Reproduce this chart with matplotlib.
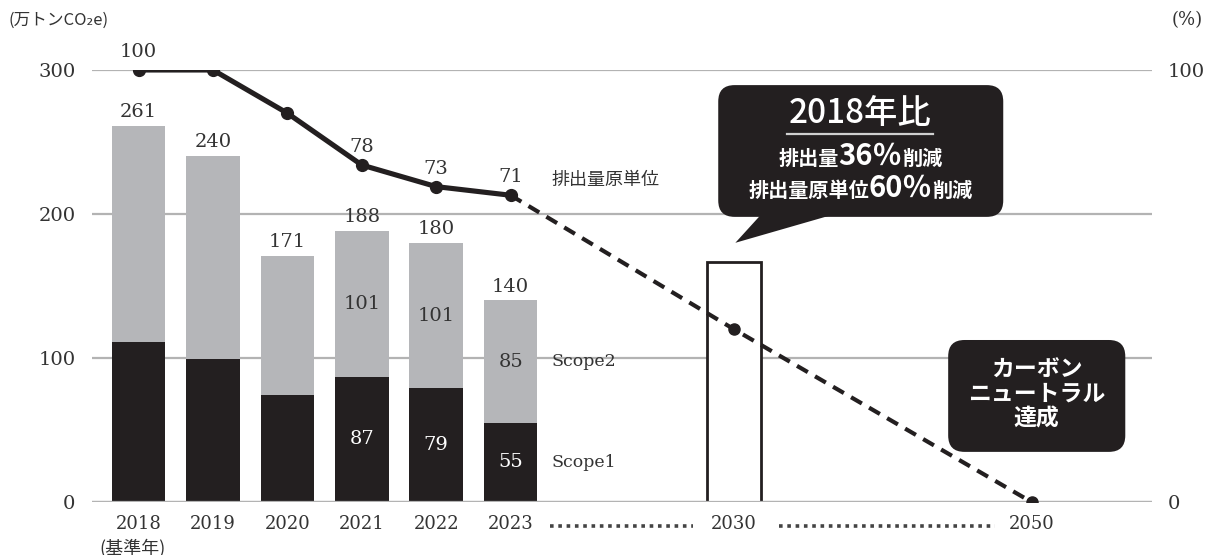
import matplotlib
matplotlib.use('Agg')
import matplotlib.pyplot as plt
from matplotlib.patches import FancyBboxPatch, Polygon
from matplotlib.offsetbox import TextArea, HPacker, AnnotationBbox

# emissions (万トンCO2e), stacked scope1 / scope2
years = ['2018', '2019', '2020', '2021', '2022', '2023']
scope1 = [111, 99, 74, 87, 79, 55]
scope2 = [150, 141, 97, 101, 101, 85]
totals = [261, 240, 171, 188, 180, 140]
show_inner = [False, False, False, True, True, True]

# emission intensity (%, 2018 = 100)
intensity = [100, 100, 90, 78, 73, 71]
intensity_labels = ['100', '', '', '78', '73', '71']

# targets
target_years = ['2030', '2050']
target_emission = 167       # 2030 outline bar
target_intensity = [40, 0]

DARK = '#231f20'
GRAY_BAR = '#b5b6b9'
GRID = '#b3b3b3'
TXT = '#333333'
SERIF = ['DejaVu Serif']
JP = ['Noto Sans CJK JP', 'DejaVu Sans']

plt.rcParams['font.family'] = SERIF

x_hist = list(range(len(years)))
x_target = [8, 12]

fig = plt.figure(figsize=(12.08, 5.55), dpi=100)
ax = fig.add_axes([0.0762, 0.0955, 0.8775, 0.7784])
ax2 = ax.twinx()

ax.set_xlim(-0.625, 13.62)
ax.set_ylim(0, 300)
ax2.set_ylim(0, 100)
for a in (ax, ax2):
    for s in a.spines.values():
        s.set_visible(False)

# grid
ax.set_axisbelow(True)
ax.set_yticks([0, 100, 200, 300])
ax.grid(axis='y', color=GRID, lw=1.6)
ax.grid(axis='x', visible=False)
ax.axhline(0, color=GRID, lw=1.6, zorder=4)

# bars
bw = 0.72
ax.bar(x_hist, scope1, width=bw, color=DARK, zorder=2)
ax.bar(x_hist, scope2, width=bw, bottom=scope1, color=GRAY_BAR, zorder=2)
ax.bar(x_target[0], target_emission, width=bw, facecolor='white',
       edgecolor=DARK, lw=2, zorder=2)

for xi, s1, s2, t, inner in zip(x_hist, scope1, scope2, totals, show_inner):
    ax.annotate(str(t), (xi, t), xytext=(0, 10), textcoords='offset points',
                ha='center', va='center', fontsize=14, color=TXT)
    if inner:
        ax.text(xi, s1 + s2 / 2, str(s2), ha='center', va='center',
                fontsize=14, color=TXT)
        ax.text(xi, s1 / 2, str(s1), ha='center', va='center',
                fontsize=14, color='white')

ax.text(x_hist[-1] + 0.55, scope1[-1] + scope2[-1] / 2, 'Scope2',
        ha='left', va='center', fontsize=12.5, color=TXT)
ax.text(x_hist[-1] + 0.55, scope1[-1] / 2, 'Scope1',
        ha='left', va='center', fontsize=12.5, color=TXT)

# intensity line
ax2.plot(x_hist, intensity, color=DARK, lw=3.7, marker='o', ms=8.5, zorder=5)
ax2.plot([x_hist[-1]] + x_target, [intensity[-1]] + target_intensity,
         color=DARK, lw=3, ls=(0, (3, 2)), zorder=5)
ax2.plot(x_target, target_intensity, 'o', color=DARK, ms=8, zorder=5)

for xi, v, lab in zip(x_hist, intensity, intensity_labels):
    if lab:
        ax2.annotate(lab, (xi, v), xytext=(0, 13), textcoords='offset points',
                     ha='center', va='center', fontsize=14, color=TXT)
ax2.text(x_hist[-1] + 0.55, intensity[-1] + 3.5, '排出量原単位', family=JP,
         ha='left', va='center', fontsize=13, color=TXT)

# ticks
ax.set_xticks(x_hist + x_target)
ax.set_xticklabels(years + target_years)
ax.tick_params(axis='x', length=0, pad=9.5, labelsize=13, labelcolor=TXT)
ax.tick_params(axis='y', length=0, pad=12, labelsize=14, labelcolor=TXT)
ax2.set_yticks([0, 100])
ax2.tick_params(axis='y', length=0, pad=11.5, labelsize=14, labelcolor=TXT)

ax.annotate('(基準年)', (0, 0), xycoords=ax.get_xaxis_transform(),
            xytext=(-4.5, -33), textcoords='offset points', family=JP,
            ha='center', va='center', fontsize=13, color=TXT)

# dotted connectors between tick labels
xt = ax.get_xaxis_transform()
for x0, x1 in [(5.53, 7.45), (8.6, 11.51)]:
    ax.plot([x0, x1], [-0.056, -0.056], transform=xt, clip_on=False,
            color='#444444', lw=2.6, ls=(0, (1, 1.3)), dash_capstyle='butt')

# axis units
fig.text(8 / 1208, 1 - 20 / 555, '(万トンCO₂e)', family=JP, fontsize=12,
         color=TXT, ha='left', va='center')
fig.text(1172 / 1208, 1 - 20 / 555, '(%)', fontsize=13, color=TXT,
         ha='left', va='center')

# callout: 2018 comparison
asp = 17.2
ax2.add_patch(FancyBboxPatch((7.79, 66.0), 11.62 - 7.79, 96.5 - 66.0,
                             boxstyle='round,pad=0,rounding_size=0.22',
                             mutation_aspect=asp, fc=DARK, ec='none',
                             zorder=8, clip_on=False))
ax2.add_patch(Polygon([(8.39, 67.0), (9.43, 67.0), (8.02, 60.0)],
                      closed=True, fc=DARK, ec='none', zorder=8))
ax2.text(9.70, 89.9, '2018年比', family=JP, fontsize=24, weight='medium',
         color='white', ha='center', va='center', zorder=9)
ax2.plot([8.72, 10.68], [85.2, 85.2], color='#d0d0d0', lw=1.6, zorder=9)


def mixed_line(parts, xy):
    areas = [TextArea(t, textprops=dict(color='white', fontsize=fs,
                                        family=JP, weight='bold'))
             for t, fs in parts]
    pack = HPacker(children=areas, align='baseline', pad=0, sep=0)
    ab = AnnotationBbox(pack, xy, xycoords='data', frameon=False,
                        box_alignment=(0.5, 0.5), pad=0, zorder=9)
    ax2.add_artist(ab)


mixed_line([('排出量', 14.5), ('36％', 21), ('削減', 14.5)], (9.70, 80.1))
mixed_line([('排出量原単位', 14.5), ('60％', 21), ('削減', 14.5)], (9.70, 72.7))

# callout: carbon neutral
ax2.add_patch(FancyBboxPatch((10.88, 11.6), 13.26 - 10.88, 37.5 - 11.6,
                             boxstyle='round,pad=0,rounding_size=0.22',
                             mutation_aspect=asp, fc=DARK, ec='none',
                             zorder=8, clip_on=False))
for txt, yy in zip(['カーボン', 'ニュートラル', '達成'], [30.6, 25.0, 19.2]):
    ax2.text(12.07, yy, txt, family=JP, fontsize=16.5, weight='bold',
             color='white', ha='center', va='center', zorder=9)

fig.savefig('out.png', dpi=100)
